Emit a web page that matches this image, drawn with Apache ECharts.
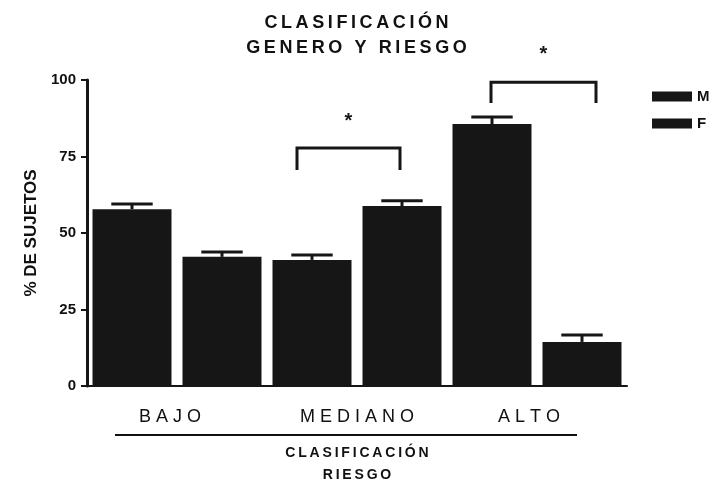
<!DOCTYPE html>
<html>
<head>
<meta charset="utf-8">
<script src="https://cdn.jsdelivr.net/npm/echarts@6/dist/echarts.min.js"></script>
<style>
  html, body { margin: 0; padding: 0; background: #fff; }
  #chart { width: 713px; height: 485px; }
</style>
</head>
<body>
<div id="chart"></div>
<script>
// Risk groups and the two sexes compared inside each group
const categories = ['BAJO', 'MEDIANO', 'ALTO'];
const seriesNames = ['M', 'F'];
// % of subjects per group (mean) and its standard error
const valuesM = [57.8, 41.2, 85.6];
const valuesF = [42.2, 58.8, 14.4];
const errorM = [1.7, 1.6, 2.3];
const errorF = [1.6, 1.7, 2.3];
const yTicks = [0, 25, 50, 75, 100];
// Significant M vs F differences: group, bracket height, leg end, asterisk level
const sigGroups = ['MEDIANO', 'ALTO'];
const sigBracketTop = [77.8, 99.3];
const sigBracketLeg = [70.6, 92.5];
const sigStarLevel = [88, 110];

// horizontal pixel nudges of the bracket legs (left, right)
const bracketNudge = [[-15, -2], [-1, 14]];
// right padding per group label (shifts the centred label to the left)
const labelShift = { BAJO: 14, MEDIANO: 0, ALTO: 16 };

const INK = '#161616';
const FONT = '"Liberation Sans", Arial, Helvetica, sans-serif';
const spaced = (s, sep) => s.split('').join(sep);

// one slot per bar: group index * 2 + sex index
const slots = [];
categories.forEach(c => seriesNames.forEach(s => slots.push(c + '-' + s)));
const slotData = (vals, sexIdx) =>
  slots.map((_, i) => (i % 2 === sexIdx ? vals[Math.floor(i / 2)] : null));

const errData = [];
categories.forEach((c, g) => {
  errData.push([g * 2, valuesM[g], errorM[g]]);
  errData.push([g * 2 + 1, valuesF[g], errorF[g]]);
});

const sigData = sigGroups.map((name, k) => {
  const g = categories.indexOf(name);
  return [g * 2, sigBracketTop[k], g * 2 + 1, sigBracketLeg[k], sigStarLevel[k], k];
});

const labelRich = {};
categories.forEach((c, i) => {
  labelRich['g' + i] = { fontFamily: FONT, fontSize: 18, color: '#111', padding: [0, labelShift[c], 0, 0] };
});

const chart = echarts.init(document.getElementById('chart'));

chart.setOption({
  animation: false,
  backgroundColor: '#fff',
  title: {
    text: spaced('CLASIFICACIÓN', '\u2009') + '\n' + spaced('GENERO Y RIESGO', '\u2009'),
    left: 'center',
    top: 6,
    textStyle: { fontFamily: FONT, fontWeight: 'bold', fontSize: 18, lineHeight: 25, color: '#111' }
  },
  legend: {
    data: seriesNames,
    orient: 'vertical',
    left: 647,
    top: 84,
    itemWidth: 40,
    itemHeight: 10,
    itemGap: 12,
    icon: 'rect',
    textStyle: { fontFamily: FONT, fontWeight: 'bold', fontSize: 15, color: '#111' }
  },
  grid: { left: 87, right: 86, top: 80, bottom: 99, outerBoundsMode: 'none', containLabel: false },
  xAxis: [
    {
      type: 'category',
      data: slots,
      boundaryGap: true,
      axisLine: { lineStyle: { color: INK, width: 2 } },
      axisTick: { alignWithLabel: true, length: 6, lineStyle: { color: INK, width: 3 } },
      axisLabel: { show: false }
    },
    {
      type: 'category',
      data: categories,
      position: 'bottom',
      offset: 0,
      axisLine: { show: false },
      axisTick: { show: false },
      axisLabel: {
        interval: 0,
        hideOverlap: false,
        margin: 22,
        fontFamily: FONT,
        fontSize: 18,
        color: '#111',
        formatter: (v, i) => '{g' + i + '|' + spaced(v, ' ') + '}',
        rich: labelRich
      },
      name: spaced('CLASIFICACIÓN', '\u2009') + '\n' + spaced('RIESGO', '\u2009'),
      nameLocation: 'middle',
      nameGap: 56,
      nameTextStyle: { fontFamily: FONT, fontWeight: 'bold', fontSize: 14, lineHeight: 22, color: '#111' }
    }
  ],
  yAxis: {
    type: 'value',
    min: yTicks[0],
    max: yTicks[yTicks.length - 1],
    interval: yTicks[1] - yTicks[0],
    splitLine: { show: false },
    axisLine: { show: true, lineStyle: { color: INK, width: 3 } },
    axisTick: { show: true, length: 6, lineStyle: { color: INK, width: 2 } },
    axisLabel: { margin: 11, fontFamily: FONT, fontWeight: 'bold', fontSize: 15, color: '#111' },
    name: '% DE SUJETOS',
    nameLocation: 'middle',
    nameRotate: 90,
    nameGap: 46,
    nameTextStyle: { fontFamily: FONT, fontWeight: 'bold', fontSize: 17, color: '#111' }
  },
  series: [
    {
      name: seriesNames[0],
      type: 'bar',
      data: slotData(valuesM, 0),
      barWidth: 79,
      barGap: '-100%',
      itemStyle: { color: INK }
    },
    {
      name: seriesNames[1],
      type: 'bar',
      data: slotData(valuesF, 1),
      barWidth: 79,
      barGap: '-100%',
      itemStyle: { color: INK }
    },
    {
      // error bars: stem from the bar top up to a cap
      type: 'custom',
      z: 5,
      data: errData,
      renderItem: (params, api) => {
        const x = api.value(0), v = api.value(1), e = api.value(2);
        const base = api.coord([x, v]);
        const top = api.coord([x, v + e]);
        const half = api.size([1, 0])[0] * 0.23;
        const st = { stroke: INK, lineWidth: 3 };
        return {
          type: 'group',
          children: [
            { type: 'line', shape: { x1: top[0], y1: base[1], x2: top[0], y2: top[1] }, style: st },
            { type: 'line', shape: { x1: top[0] - half, y1: top[1], x2: top[0] + half, y2: top[1] }, style: st }
          ]
        };
      }
    },
    {
      // significance brackets with an asterisk above
      type: 'custom',
      z: 5,
      clip: false,
      data: sigData,
      encode: { x: [0, 2], y: [1, 3, 4] },
      renderItem: (params, api) => {
        const k = api.value(5);
        const l = api.coord([api.value(0), api.value(1)]);
        const r = api.coord([api.value(2), api.value(1)]);
        const legY = api.coord([api.value(0), api.value(3)])[1];
        const starY = api.coord([api.value(0), api.value(4)])[1];
        const x1 = l[0] + bracketNudge[k][0];
        const x2 = r[0] + bracketNudge[k][1];
        return {
          type: 'group',
          children: [
            {
              type: 'polyline',
              shape: { points: [[x1, legY], [x1, l[1]], [x2, l[1]], [x2, legY]] },
              style: { stroke: INK, lineWidth: 3, fill: null }
            },
            {
              type: 'text',
              style: {
                x: (x1 + x2) / 2, y: starY + 5,
                text: '*', align: 'center', verticalAlign: 'middle',
                font: 'bold 20px ' + FONT, fill: INK
              }
            }
          ]
        };
      }
    }
  ],
  graphic: [
    {
      type: 'line',
      shape: { x1: 115, y1: 435, x2: 577, y2: 435 },
      style: { stroke: '#111', lineWidth: 2 }
    }
  ]
});
</script>
</body>
</html>
